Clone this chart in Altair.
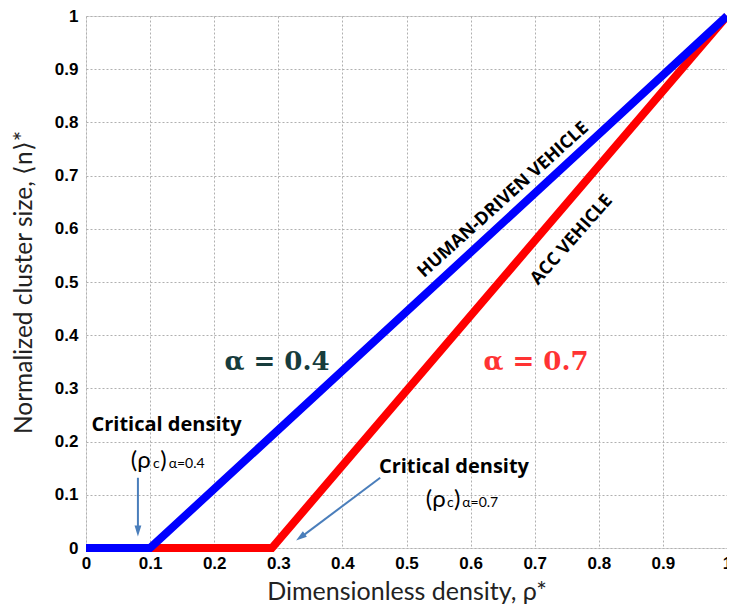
import altair as alt
import pandas as pd

# Data
human_x = [0.0, 0.1, 1.0]
human_y = [0.0, 0.0, 1.0]
acc_x = [0.1, 0.29, 1.0]
acc_y = [0.0, 0.0, 1.0]
ticks = [0, 0.1, 0.2, 0.3, 0.4, 0.5, 0.6, 0.7, 0.8, 0.9, 1]

lines = pd.DataFrame(
    [{"x": a, "y": b, "s": "ACC", "o": i} for i, (a, b) in enumerate(zip(acc_x, acc_y))]
    + [{"x": a, "y": b, "s": "HUMAN", "o": i} for i, (a, b) in enumerate(zip(human_x, human_y))]
)

xs = alt.Scale(domain=[0, 1], nice=False)
ys = alt.Scale(domain=[0, 1], nice=False)

lab_expr = "datum.value == 0 ? '0' : datum.value == 1 ? '1' : format(datum.value, '.1f')"

common = dict(values=ticks, labelFont="Liberation Sans", labelFontWeight="bold", labelFontSize=17,
              labelColor="black", titleFont="Lato", titleFontWeight="normal",
              titleColor="#222", grid=True, gridDash=[2, 2], gridColor="#b0b0b0", domain=False,
              ticks=False, labelFlush=False, labelOverlap=False, labelExpr=lab_expr)
xaxis = alt.Axis(title="Dimensionless density, ρ*", labelPadding=7, titlePadding=8, titleFontSize=25, **common)
yaxis = alt.Axis(title="Normalized cluster size, ⟨n⟩*", labelPadding=8, titlePadding=18, titleFontSize=24.5, **common)

def line(series, color):
    return alt.Chart(lines[lines.s == series]).mark_line(color=color, strokeWidth=8, strokeCap="butt").encode(
        x=alt.X("x:Q", scale=xs, axis=xaxis),
        y=alt.Y("y:Q", scale=ys, axis=yaxis),
        order="o:Q",
    )

def tmark(rows, font, weight, size, color, angle=0, align="left", baseline="middle"):
    return alt.Chart(pd.DataFrame(rows)).mark_text(font=font, fontWeight=weight, fontSize=size, color=color,
                                                   angle=angle, align=align, baseline=baseline).encode(
        x=alt.X("x:Q", scale=xs), y=alt.Y("y:Q", scale=ys), text="t:N")

labels = [
    tmark([{"x": 0.651, "y": 0.654, "t": "HUMAN-DRIVEN VEHICLE"}], "Open Sans", "bold", 18, "black", 318, "center"),
    tmark([{"x": 0.758, "y": 0.579, "t": "ACC VEHICLE"}], "Open Sans", "bold", 18, "black", 311.5, "center"),
    tmark([{"x": 0.298, "y": 0.350, "t": "α = 0.4"}], "DejaVu Serif", "bold", 26, "#173c3c", 0, "center"),
    tmark([{"x": 0.702, "y": 0.350, "t": "α = 0.7"}], "DejaVu Serif", "bold", 26, "#ff3333", 0, "center"),
    tmark([{"x": 0.1256, "y": 0.231, "t": "Critical density"}], "Open Sans", "bold", 20, "black", 0, "center"),
    tmark([{"x": 0.574, "y": 0.152, "t": "Critical density"}], "Open Sans", "bold", 20, "black", 0, "center"),
    tmark([{"x": 0.070, "y": 0.150, "t": "(ρ"}, {"x": 0.530, "y": 0.077, "t": "(ρ"}], "Lato", "normal", 24, "black", baseline="alphabetic"),
    tmark([{"x": 0.1045, "y": 0.150, "t": "c"}, {"x": 0.563, "y": 0.077, "t": "c"}], "Lato", "normal", 14, "black", baseline="alphabetic"),
    tmark([{"x": 0.116, "y": 0.150, "t": ")"}, {"x": 0.574, "y": 0.077, "t": ")"}], "Lato", "normal", 24, "black", baseline="alphabetic"),
    tmark([{"x": 0.129, "y": 0.150, "t": "α=0.4"}, {"x": 0.587, "y": 0.077, "t": "α=0.7"}], "Lato", "normal", 14, "black", baseline="alphabetic"),
]

arrow_color = "#4a7ebb"
arrows = pd.DataFrame([
    {"x": 0.081, "y": 0.132, "x2": 0.081, "y2": 0.035},
    {"x": 0.459, "y": 0.132, "x2": 0.336, "y2": 0.021},
])
arrow_lines = alt.Chart(arrows).mark_rule(color=arrow_color, strokeWidth=2).encode(
    x=alt.X("x:Q", scale=xs), y=alt.Y("y:Q", scale=ys), x2="x2:Q", y2="y2:Q")
heads = pd.DataFrame([
    {"x": 0.081, "y": 0.032, "a": 180},
    {"x": 0.3346, "y": 0.020, "a": 233.5},
])
arrow_heads = alt.Chart(heads).mark_point(shape="M0,-1L-0.62,1L0.62,1Z", filled=True, color=arrow_color,
                                          size=120, opacity=1, strokeWidth=0).encode(
    x=alt.X("x:Q", scale=xs), y=alt.Y("y:Q", scale=ys), angle=alt.Angle("a:Q", scale=None))

chart = alt.layer(line("ACC", "#ff0000"), line("HUMAN", "#0000ff"), arrow_lines, arrow_heads, *labels).properties(
    width=641, height=532,
    autosize=alt.AutoSizeParams(type="none"),
    padding={"left": 78, "top": 8, "right": 0, "bottom": 56},
).configure_view(stroke="#999999", strokeWidth=1.5).configure(background="white")

chart.save("out.html", embed_options={"renderer": "svg", "actions": False})
